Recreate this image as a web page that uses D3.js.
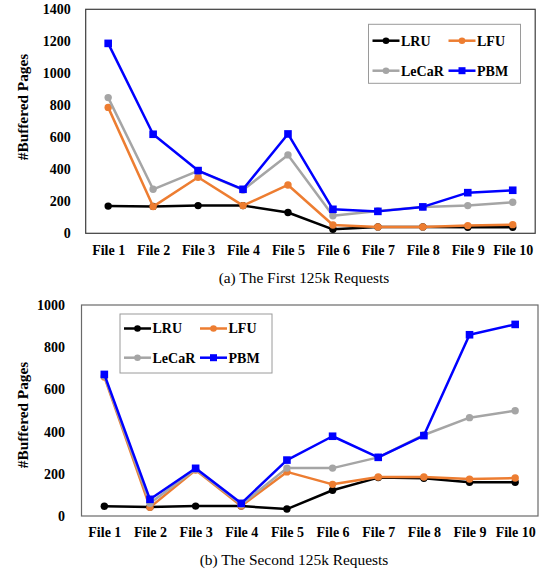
<!DOCTYPE html>
<html lang="en">
<head>
    <meta charset="UTF-8">
    <title>Buffered Pages</title>
    <script src="https://cdn.jsdelivr.net/npm/d3@7"></script>
    <style>
        html, body {
            margin: 0;
            background: #fff;
        }
    </style>
</head>
<body>
    <div id="vis"></div>
    <script>
        // data
        var files = ["File 1", "File 2", "File 3", "File 4", "File 5", "File 6", "File 7", "File 8", "File 9", "File 10"];
        var seriesNames = ["LRU", "LFU", "LeCaR", "PBM"];
        var seriesColors = ["#000000", "#ED7D31", "#A5A5A5", "#0000FF"];
        var seriesMarkers = ["circle", "circle", "circle", "square"];

        // (a) first 125k requests
        var firstLRU   = [170, 168, 173, 173, 130, 25, 40, 40, 38, 38];
        var firstLFU   = [787, 167, 350, 173, 302, 52, 40, 40, 48, 54];
        var firstLeCaR = [848, 275, 390, 271, 490, 110, 140, 165, 173, 194];
        var firstPBM   = [1187, 619, 392, 275, 621, 150, 137, 165, 254, 269];
        var firstTicks = [0, 200, 400, 600, 800, 1000, 1200, 1400];

        // (b) second 125k requests
        var secondLRU   = [46, 43, 47, 47, 33, 122, 182, 179, 160, 160];
        var secondLFU   = [659, 41, 218, 47, 209, 150, 185, 185, 175, 180];
        var secondLeCaR = [664, 60, 221, 54, 227, 227, 278, 384, 466, 499];
        var secondPBM   = [671, 79, 226, 60, 265, 378, 278, 381, 859, 908];
        var secondTicks = [0, 200, 400, 600, 800, 1000];

        var FONT = "Liberation Serif";

        var svg = d3.select("#vis")
            .append("svg")
                .attr("width", 546)
                .attr("height", 574)
                .attr("font-family", FONT);

        function styleTicks(sel) {
            sel.attr("font-family", FONT)
                .attr("font-size", null);
            sel.select(".domain").remove();
            sel.selectAll("text")
                .attr("font-family", FONT)
                .attr("font-weight", "bold")
                .attr("font-size", "14px")
                .attr("fill", "#000");
        }

        function drawPanel(opt) {
            var g = svg.append("g");

            var x = d3.scalePoint()
                .domain(files)
                .range([opt.left, opt.right])
                .padding(0.5);

            var y = d3.scaleLinear()
                .domain([0, opt.max])
                .range([opt.bottom, opt.top]);

            // plot frame
            g.append("rect")
                .attr("x", opt.left)
                .attr("y", opt.top)
                .attr("width", opt.right - opt.left)
                .attr("height", opt.bottom - opt.top)
                .attr("fill", "none")
                .attr("stroke", opt.frame)
                .attr("stroke-width", 1.2);

            // y axis labels
            g.append("g")
                .attr("transform", "translate(" + opt.left + ",0)")
                .call(d3.axisLeft(y)
                    .tickValues(opt.ticks)
                    .tickFormat(d3.format("d"))
                    .tickSize(0)
                    .tickPadding(opt.yPad))
                .call(styleTicks);

            // x axis labels
            g.append("g")
                .attr("transform", "translate(0," + opt.bottom + ")")
                .call(d3.axisBottom(x)
                    .tickSize(0)
                    .tickPadding(opt.xPad))
                .call(styleTicks);

            // y title
            g.append("text")
                .attr("transform", "translate(" + opt.titleX + "," + opt.titleY + ") rotate(-90)")
                .attr("text-anchor", "middle")
                .attr("dy", "0.35em")
                .attr("font-family", FONT)
                .attr("font-weight", "bold")
                .attr("font-size", "15.3px")
                .text("#Buffered Pages");

            // caption
            g.append("text")
                .attr("x", opt.capX)
                .attr("y", opt.capY)
                .attr("text-anchor", "middle")
                .attr("dy", "0.35em")
                .attr("font-family", FONT)
                .attr("font-size", "15.4px")
                .text(opt.caption);

            var line = d3.line()
                .x(function(d, i) { return x(files[i]); })
                .y(function(d) { return y(d); });

            opt.series.forEach(function(values, k) {
                var s = g.append("g");
                s.append("path")
                    .datum(values)
                    .attr("d", line)
                    .attr("fill", "none")
                    .attr("stroke", seriesColors[k])
                    .attr("stroke-width", 2.5)
                    .attr("stroke-linejoin", "round");

                if (seriesMarkers[k] === "square") {
                    s.selectAll("rect")
                        .data(values)
                        .enter()
                        .append("rect")
                            .attr("x", function(d, i) { return x(files[i]) - 3.8; })
                            .attr("y", function(d) { return y(d) - 3.8; })
                            .attr("width", 7.6)
                            .attr("height", 7.6)
                            .attr("fill", seriesColors[k]);
                } else {
                    s.selectAll("circle")
                        .data(values)
                        .enter()
                        .append("circle")
                            .attr("cx", function(d, i) { return x(files[i]); })
                            .attr("cy", function(d) { return y(d); })
                            .attr("r", 3.7)
                            .attr("fill", seriesColors[k]);
                }
            });

            // legend
            var lg = g.append("g")
                .attr("transform", "translate(" + opt.legX + "," + opt.legY + ")");
            lg.append("rect")
                .attr("width", 152)
                .attr("height", 59)
                .attr("fill", "#fff")
                .attr("stroke", "#9a9a9a")
                .attr("stroke-width", 1);

            seriesNames.forEach(function(name, k) {
                var cx = (k % 2) * 76 + 4;
                var cy = k < 2 ? opt.legRow1 : opt.legRow2;
                lg.append("line")
                    .attr("x1", cx)
                    .attr("x2", cx + 27)
                    .attr("y1", cy)
                    .attr("y2", cy)
                    .attr("stroke", seriesColors[k])
                    .attr("stroke-width", 2.5);
                if (seriesMarkers[k] === "square") {
                    lg.append("rect")
                        .attr("x", cx + 13.5 - 3.5)
                        .attr("y", cy - 3.5)
                        .attr("width", 7)
                        .attr("height", 7)
                        .attr("fill", seriesColors[k]);
                } else {
                    lg.append("circle")
                        .attr("cx", cx + 13.5)
                        .attr("cy", cy)
                        .attr("r", 3.3)
                        .attr("fill", seriesColors[k]);
                }
                lg.append("text")
                    .attr("x", cx + 28.5)
                    .attr("y", cy)
                    .attr("dy", "0.35em")
                    .attr("font-family", FONT)
                    .attr("font-weight", "bold")
                    .attr("font-size", "14px")
                    .text(name);
            });
        }

        drawPanel({
            left: 85.7, right: 535.2, top: 9.3, bottom: 233.3,
            max: 1400, ticks: firstTicks, frame: "#3c3c3c",
            yPad: 15, xPad: 12,
            titleX: 22.6, titleY: 107,
            capX: 304, capY: 278,
            caption: "(a) The First 125k Requests",
            series: [firstLRU, firstLFU, firstLeCaR, firstPBM],
            legX: 368.5, legY: 24.3, legRow1: 16.4, legRow2: 46.4
        });

        drawPanel({
            left: 81.5, right: 538, top: 305, bottom: 516,
            max: 1000, ticks: secondTicks, frame: "#6a6a6a",
            yPad: 16.5, xPad: 11,
            titleX: 22.6, titleY: 415,
            capX: 294, capY: 559.3,
            caption: "(b) The Second 125k Requests",
            series: [secondLRU, secondLFU, secondLeCaR, secondPBM],
            legX: 120, legY: 314, legRow1: 14.5, legRow2: 43.7
        });
    </script>
</body>
</html>
